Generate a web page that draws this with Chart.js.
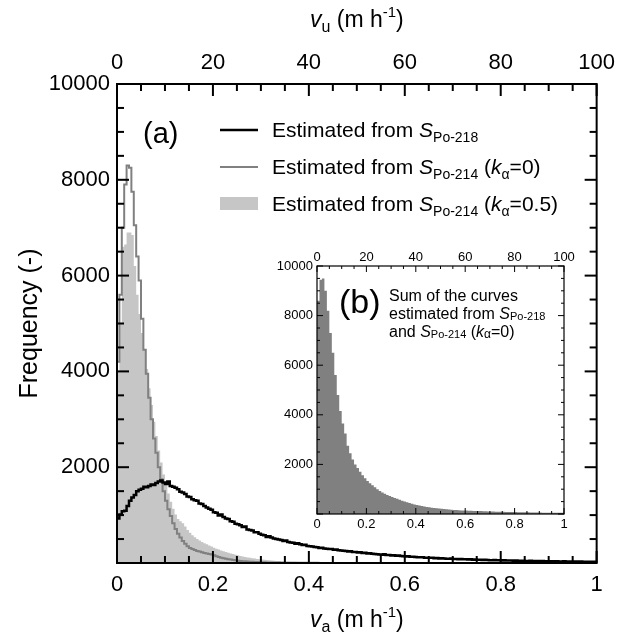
<!DOCTYPE html>
<html>
<head>
<meta charset="utf-8">
<script src="https://cdn.jsdelivr.net/npm/chart.js@4.4.1/dist/chart.umd.min.js"></script>
<style>
  html, body { margin: 0; padding: 0; background: #fff; }
  #wrap { position: relative; width: 623px; height: 640px; }
  #main { position: absolute; left: 0; top: 0; }
  #inset { position: absolute; left: 262px; top: 240px; }
</style>
</head>
<body>
<div id="wrap">
  <canvas id="main" width="623" height="640"></canvas>
  <canvas id="inset" width="316" height="300"></canvas>
</div>
<script>
// bin widths of the histograms (v_a, m h-1)
const binMain = 0.005;
const binInset = 0.01;

// Estimated from S_Po-218 (black line), 0 .. 1
const po218 = [
  930, 1010, 1080, 1090, 1190, 1300, 1370, 1420, 1500, 1530,
  1550, 1590, 1580, 1610, 1640, 1630, 1670, 1700, 1720, 1680,
  1650, 1700, 1610, 1590, 1570, 1540, 1490, 1470, 1440, 1390,
  1380, 1330, 1310, 1300, 1240, 1230, 1190, 1160, 1130, 1110,
  1060, 1050, 990, 1010, 960, 930, 920, 870, 860, 820,
  810, 790, 750, 760, 700, 690, 680, 640, 640, 610,
  590, 580, 545, 560, 530, 510, 500, 490, 480, 460,
  470, 440, 430, 425, 400, 410, 390, 375, 380, 355,
  350, 345, 335, 330, 315, 320, 305, 300, 290, 292,
  275, 280, 265, 262, 255, 250, 240, 245, 232, 228,
  220, 224, 210, 212, 200, 205, 192, 190, 185, 180,
  170, 182, 165, 168, 158, 160, 150, 155, 145, 140,
  138, 140, 128, 132, 125, 122, 118, 120, 112, 110,
  108, 112, 100, 104, 96, 98, 92, 90, 88, 92,
  84, 86, 80, 82, 78, 76, 74, 78, 70, 72,
  68, 66, 64, 68, 62, 60, 58, 62, 56, 55,
  54, 58, 52, 50, 50, 48, 52, 46, 45, 48,
  44, 42, 46, 41, 40, 42, 38, 40, 37, 36,
  38, 35, 34, 36, 33, 32, 34, 31, 30, 32,
  29, 30, 28, 29, 27, 28, 26, 27, 25, 26
];

// Estimated from S_Po-214 (k_alpha = 0), gray line, 0 .. 0.5
const po214k0 = [
  4200, 5600, 7000, 7900, 8300, 8250, 7750, 7050, 6400, 5900,
  5100, 4450, 3950, 3450, 3000, 2600, 2300, 2000, 1750, 1500,
  1300, 1120, 980, 830, 710, 610, 530, 460, 400, 350,
  315, 290, 270, 250, 238, 222, 208, 196, 186, 175,
  160, 142, 126, 112, 100, 90, 80, 71, 63, 56,
  49, 44, 39, 35, 31, 28, 25, 22, 20, 18,
  16, 14, 13, 12, 11, 10, 9, 8, 7, 7,
  6, 6, 5, 5, 5, 4, 4, 4, 4, 3,
  3, 3, 3, 3, 2, 2, 2, 2, 2, 2,
  2, 2, 2, 2, 1, 1, 1, 1, 1, 1
];

// Estimated from S_Po-214 (k_alpha = 0.5), light gray area, 0 .. 0.5
const po214k05 = [
  4000, 5000, 6600, 6650, 6900, 6900, 6850, 6200, 5600, 5200,
  4800, 4450, 4050, 3650, 3300, 2950, 2650, 2350, 2100, 1850,
  1650, 1450, 1280, 1130, 1010, 920, 870, 830, 760, 690,
  630, 580, 540, 500, 470, 440, 410, 390, 365, 345,
  320, 300, 280, 262, 245, 230, 215, 200, 186, 173,
  160, 148, 137, 127, 117, 108, 100, 92, 85, 78,
  72, 66, 61, 56, 52, 48, 44, 41, 38, 35,
  32, 30, 28, 26, 24, 22, 20, 19, 18, 17,
  16, 15, 14, 13, 12, 12, 11, 10, 10, 9,
  9, 8, 8, 7, 7, 7, 6, 6, 6, 5
];

// (b) sum of the curves, dark gray area, 0 .. 1
const sumCurves = [
  8600, 9450, 9500, 9000, 8200, 7300, 6500, 5600, 4800, 4150,
  3650, 3250, 2750, 2450, 2200, 2000, 1850, 1700, 1560, 1440,
  1330, 1240, 1160, 1080, 1000, 930, 870, 820, 770, 730,
  690, 650, 610, 570, 535, 500, 470, 440, 410, 385,
  360, 340, 320, 300, 285, 270, 255, 242, 230, 218,
  207, 197, 188, 180, 172, 165, 158, 151, 145, 140,
  138, 134, 130, 126, 122, 120, 116, 112, 108, 104,
  100, 97, 94, 91, 88, 86, 84, 82, 80, 78,
  76, 74, 72, 70, 68, 66, 64, 62, 60, 58,
  56, 55, 54, 53, 52, 51, 50, 49, 48, 47
];

const FONT = "'Liberation Sans', Arial, Helvetica, sans-serif";

// one point at each bin edge so the line is a histogram outline
function stepPoints(counts, width) {
  const pts = [];
  counts.forEach((c, i) => {
    pts.push({ x: i * width, y: c }, { x: (i + 1) * width, y: c });
  });
  return pts;
}

function fnt(p) {
  return (p.i ? 'italic ' : '') + p.s + 'px ' + FONT;
}

// draws a run of text pieces (italic / sub / sup) side by side
function rich(ctx, parts, x, y, align) {
  let w = 0;
  parts.forEach(p => { ctx.font = fnt(p); w += ctx.measureText(p.t).width; });
  let cx = align === 'center' ? x - w / 2 : x;
  ctx.textAlign = 'left';
  ctx.textBaseline = 'alphabetic';
  parts.forEach(p => {
    ctx.font = fnt(p);
    ctx.fillText(p.t, cx, y + (p.dy || 0));
    cx += ctx.measureText(p.t).width;
  });
}

// frame and inward ticks on all four sides
const frameTicks = {
  id: 'frameTicks',
  afterDatasetsDraw(chart, args, o) {
    const { ctx, chartArea: a, scales } = chart;
    ctx.save();
    ctx.strokeStyle = '#000';
    ctx.lineWidth = o.tickWidth;
    ctx.lineCap = 'butt';
    const line = (x1, y1, x2, y2) => {
      ctx.beginPath(); ctx.moveTo(x1, y1); ctx.lineTo(x2, y2); ctx.stroke();
    };
    for (let i = 0; i <= 20; i++) {
      const len = i % 4 === 0 ? o.major : o.minor;
      const px = scales.x.getPixelForValue(i * 0.05);
      line(px, a.bottom, px, a.bottom - len);
      const pt = scales.x2.getPixelForValue(i * 5);
      line(pt, a.top, pt, a.top + len);
      const py = scales.y.getPixelForValue(i * 500);
      line(a.left, py, a.left + len, py);
      line(a.right, py, a.right - len, py);
    }
    ctx.lineWidth = o.frameWidth;
    ctx.strokeRect(a.left, a.top, a.right - a.left, a.bottom - a.top);
    ctx.restore();
  }
};

function axisTitle(sub) {
  return [
    { t: 'v', s: 23, i: true },
    { t: sub, s: 16, dy: 5 },
    { t: ' (m h', s: 23 },
    { t: '-1', s: 15, dy: -10 },
    { t: ')', s: 23 }
  ];
}

const mainText = {
  id: 'mainText',
  afterDraw(chart) {
    const { ctx, chartArea: a } = chart;
    const cx = (a.left + a.right) / 2;
    ctx.save();
    ctx.fillStyle = '#000';
    rich(ctx, axisTitle('u'), cx, 27, 'center');
    rich(ctx, axisTitle('a'), cx, 627, 'center');

    ctx.save();
    ctx.translate(37, (a.top + a.bottom) / 2);
    ctx.rotate(-Math.PI / 2);
    rich(ctx, [{ t: 'Frequency (-)', s: 25 }], 0, 0, 'center');
    ctx.restore();

    rich(ctx, [{ t: '(a)', s: 29 }], a.left + 26, a.top + 59);

    // legend
    const lx = a.left + 103, tx = a.left + 155;
    ctx.lineCap = 'butt';
    ctx.strokeStyle = '#000'; ctx.lineWidth = 2.5;
    ctx.beginPath(); ctx.moveTo(lx, a.top + 46); ctx.lineTo(lx + 38, a.top + 46); ctx.stroke();
    ctx.strokeStyle = '#808080'; ctx.lineWidth = 2;
    ctx.beginPath(); ctx.moveTo(lx, a.top + 83); ctx.lineTo(lx + 38, a.top + 83); ctx.stroke();
    ctx.fillStyle = '#c6c6c6';
    ctx.fillRect(lx, a.top + 113, 38, 13);
    ctx.fillStyle = '#000';
    const head = [{ t: 'Estimated from ', s: 21 }, { t: 'S', s: 21, i: true }];
    rich(ctx, head.concat([{ t: 'Po-218', s: 14, dy: 5 }]), tx, a.top + 53);
    const k = v => [{ t: 'Po-214', s: 14, dy: 5 }, { t: ' (', s: 21 }, { t: 'k', s: 21, i: true },
      { t: 'α', s: 14, dy: 5 }, { t: '=' + v + ')', s: 21 }];
    rich(ctx, head.concat(k('0')), tx, a.top + 90);
    rich(ctx, head.concat(k('0.5')), tx, a.top + 127);
    ctx.restore();
  }
};

const insetText = {
  id: 'insetText',
  afterDraw(chart) {
    const { ctx, chartArea: a } = chart;
    ctx.save();
    ctx.fillStyle = '#000';
    rich(ctx, [{ t: '(b)', s: 34 }], a.left + 22, a.top + 47);
    const x = a.left + 72;
    rich(ctx, [{ t: 'Sum of the curves', s: 16 }], x, a.top + 35);
    rich(ctx, [{ t: 'estimated from ', s: 16 }, { t: 'S', s: 16, i: true },
      { t: 'Po-218', s: 11, dy: 1 }], x, a.top + 53);
    rich(ctx, [{ t: 'and ', s: 16 }, { t: 'S', s: 16, i: true }, { t: 'Po-214', s: 11, dy: 1 },
      { t: ' (', s: 16 }, { t: 'k', s: 16, i: true }, { t: 'α', s: 12, dy: 1 },
      { t: '=0)', s: 16 }], x, a.top + 71);
    ctx.restore();
  }
};

function scaleSet(size, pad, w) {
  const tickFont = { family: FONT, size: size };
  return {
    x: {
      type: 'linear', position: 'bottom', min: 0, max: 1,
      grid: { display: false, drawTicks: false }, border: { display: false },
      ticks: { stepSize: 0.2, font: tickFont, color: '#000', padding: pad.bottom, maxRotation: 0,
        callback: v => String(Math.round(v * 10) / 10) },
      afterFit: s => { s.height = w.bottom; }
    },
    x2: {
      type: 'linear', axis: 'x', position: 'top', min: 0, max: 100,
      grid: { display: false, drawTicks: false }, border: { display: false },
      ticks: { stepSize: 20, font: tickFont, color: '#000', padding: pad.top, maxRotation: 0,
        callback: v => String(v) },
      afterFit: s => { s.height = w.top; }
    },
    y: {
      type: 'linear', position: 'left', min: 0, max: 10000,
      grid: { display: false, drawTicks: false }, border: { display: false },
      ticks: { stepSize: 2000, font: tickFont, color: '#000', padding: pad.left,
        callback: v => v === 0 ? '' : String(v) },
      afterFit: s => { s.width = w.left; }
    }
  };
}

const lineStyle = { pointRadius: 0, tension: 0, borderJoinStyle: 'miter', borderCapStyle: 'butt' };

new Chart(document.getElementById('main'), {
  type: 'line',
  data: {
    datasets: [
      Object.assign({ label: 'Estimated from S Po-218', data: stepPoints(po218, binMain),
        borderColor: '#000', borderWidth: 2.5, fill: false }, lineStyle),
      Object.assign({ label: 'Estimated from S Po-214 (k=0)', data: stepPoints(po214k0, binMain),
        borderColor: '#808080', borderWidth: 2, fill: false }, lineStyle),
      Object.assign({ label: 'Estimated from S Po-214 (k=0.5)', data: stepPoints(po214k05, binMain),
        borderColor: 'rgba(0,0,0,0)', borderWidth: 0, backgroundColor: '#c6c6c6', fill: 'origin' }, lineStyle)
    ]
  },
  options: {
    responsive: false,
    animation: false,
    devicePixelRatio: 1,
    layout: { padding: { left: 0, right: 24, top: 0, bottom: 0 } },
    scales: scaleSet(22, { bottom: 9, top: 8, left: 7 }, { bottom: 77, top: 84, left: 117 }),
    plugins: {
      legend: { display: false },
      tooltip: { enabled: false },
      frameTicks: { major: 12, minor: 7, tickWidth: 2, frameWidth: 2 }
    }
  },
  plugins: [frameTicks, mainText]
});

new Chart(document.getElementById('inset'), {
  type: 'line',
  data: {
    datasets: [
      Object.assign({ label: 'Sum of the curves', data: stepPoints(sumCurves, binInset),
        borderColor: 'rgba(0,0,0,0)', borderWidth: 0, backgroundColor: '#808080', fill: 'origin' }, lineStyle)
    ]
  },
  options: {
    responsive: false,
    animation: false,
    devicePixelRatio: 1,
    layout: { padding: { left: 0, right: 14, top: 0, bottom: 0 } },
    scales: scaleSet(13, { bottom: 3, top: 1, left: 4 }, { bottom: 26, top: 26, left: 55 }),
    plugins: {
      legend: { display: false },
      tooltip: { enabled: false },
      frameTicks: { major: 6, minor: 3, tickWidth: 1, frameWidth: 1.2 }
    }
  },
  plugins: [frameTicks, insetText]
});
</script>
</body>
</html>
